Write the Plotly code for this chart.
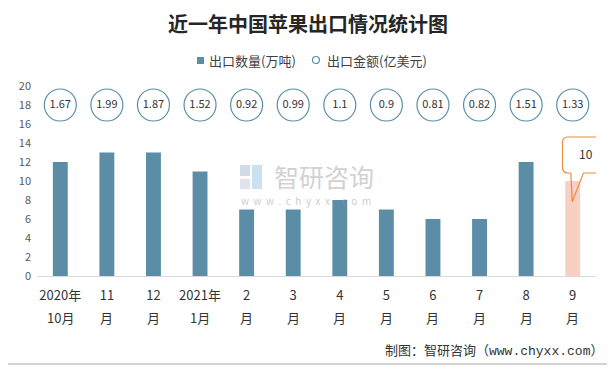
import plotly.graph_objects as go

line1 = ["2020年", "11", "12", "2021年", "2", "3", "4", "5", "6", "7", "8", "9"]
line2 = ["10月", "月", "月", "1月", "月", "月", "月", "月", "月", "月", "月", "月"]
volume = [12, 13, 13, 11, 7, 7, 8, 7, 6, 6, 12, 10]          # 出口数量(万吨)
amount = [1.67, 1.99, 1.87, 1.52, 0.92, 0.99, 1.1, 0.9, 0.81, 0.82, 1.51, 1.33]  # 出口金额(亿美元)
legend_names = ["出口数量(万吨)", "出口金额(亿美元)"]

BAR = "#5B8EA6"
PINK = "#F8CFC3"
ORANGE = "#E58F3C"
FONT = "Noto Sans CJK SC"
CIRCLE_Y = 18

# page is drawn 8px in from the top-left corner, so work in page pixels
OFF = 8
PL, PR, PT, PB = 37, 596, 86, 276   # plot area in page pixels
def xp(px):
    return (px - PL) / (PR - PL)
def yp(py):
    return (PB - py) / (PB - PT)

xs = list(range(len(line1)))
bar_colors = [BAR] * (len(volume) - 1) + [PINK]

fig = go.Figure()
fig.add_trace(go.Bar(x=xs, y=volume, marker=dict(color=bar_colors, line=dict(width=0)),
                     width=0.32, showlegend=False, hoverinfo="y"))
fig.add_trace(go.Scatter(x=xs, y=[CIRCLE_Y] * len(amount), mode="markers+text",
                         text=[str(v) for v in amount], textposition="middle center",
                         textfont=dict(size=11, color="#333333", family=FONT),
                         marker=dict(size=32, color="white", line=dict(color=BAR, width=1.2)),
                         showlegend=False, cliponaxis=False))

# second line of the x labels
for x, t in zip(xs, line2):
    fig.add_annotation(x=x, y=yp(317), xref="x", yref="paper", text=t, showarrow=False,
                       yanchor="middle", font=dict(size=13, color="#333333", family=FONT))

# manual legend
fig.add_shape(type="rect", xref="paper", yref="paper", x0=xp(197), x1=xp(204), y0=yp(64), y1=yp(57),
              fillcolor=BAR, line=dict(width=0))
fig.add_annotation(xref="paper", yref="paper", x=xp(207), y=yp(60), xanchor="left", yanchor="middle",
                   text=legend_names[0], showarrow=False, font=dict(size=13, color="#404040", family=FONT))
fig.add_shape(type="circle", xref="paper", yref="paper", x0=xp(312.5), x1=xp(319.5), y0=yp(63.5), y1=yp(56.5),
              fillcolor="white", line=dict(color=BAR, width=1.2))
fig.add_annotation(xref="paper", yref="paper", x=xp(325), y=yp(60), xanchor="left", yanchor="middle",
                   text=legend_names[1], showarrow=False, font=dict(size=13, color="#404040", family=FONT))

# callout for last bar
i = len(volume) - 1
v = volume[i]
x0, x1 = i - 0.22, i + 0.80
yb, yt = v + 0.84, v + 4.63
rx, ry = 0.12, 0.6
tip_x, tip_y = i - 0.01, v - 2.2
path = (f"M {x0+rx},{yt} L {x1-rx},{yt} Q {x1},{yt} {x1},{yt-ry} "
        f"L {x1},{yb+ry} Q {x1},{yb} {x1-rx},{yb} L {i+0.23},{yb} L {tip_x},{tip_y} "
        f"L {i-0.04},{yb} L {x0+rx},{yb} Q {x0},{yb} {x0},{yb+ry} L {x0},{yt-ry} Q {x0},{yt} {x0+rx},{yt} Z")
fig.add_shape(type="path", path=path, xref="x", yref="y", fillcolor="rgba(0,0,0,0)",
              line=dict(color=ORANGE, width=1.2), layer="above")
fig.add_annotation(x=(x0 + x1) / 2, y=(yb + yt) / 2 + 0.2, text=str(v), showarrow=False,
                   font=dict(size=12, color="#333333", family=FONT), xref="x", yref="y")

# outer border (right and bottom edges lie inside the figure)
fig.add_shape(type="rect", xref="paper", yref="paper",
              x0=xp(5), x1=xp(610), y0=yp(364), y1=yp(2),
              line=dict(color="#A6A6A6", width=1), layer="below")

# watermark
fig.add_shape(type="rect", xref="paper", yref="paper", x0=xp(240), x1=xp(250), y0=yp(176), y1=yp(165),
              fillcolor="rgba(175,190,215,0.55)", line=dict(width=0), layer="below")
fig.add_shape(type="rect", xref="paper", yref="paper", x0=xp(252), x1=xp(262), y0=yp(189), y1=yp(165),
              fillcolor="rgba(150,195,225,0.5)", line=dict(width=0), layer="below")
fig.add_shape(type="rect", xref="paper", yref="paper", x0=xp(240), x1=xp(250), y0=yp(189), y1=yp(179),
              fillcolor="rgba(190,200,220,0.5)", line=dict(width=0), layer="below")
fig.add_annotation(xref="paper", yref="paper", x=xp(324), y=yp(175.5),
                   text="智研咨询", showarrow=False,
                   font=dict(size=25, color="rgba(150,150,150,0.45)", family=FONT))
fig.add_annotation(xref="paper", yref="paper", x=xp(306), y=yp(200.5),
                   text="w  w  w  .  c  h  y  x  x  .  c  o  m", showarrow=False,
                   font=dict(size=10, color="rgba(150,150,150,0.5)", family=FONT))

# footer
fig.add_annotation(xref="paper", yref="paper", x=xp(605), y=yp(349),
                   xanchor="right", yanchor="middle",
                   text="制图：智研咨询（<span style='font-family:Liberation Mono'>www.chyxx.com</span>）",
                   showarrow=False, font=dict(size=13, color="#333333", family=FONT))

fig.update_layout(
    width=615 - OFF, height=369 - OFF,
    margin=dict(l=PL - OFF, r=615 - PR, t=PT - OFF, b=369 - PB),
    paper_bgcolor="white", plot_bgcolor="white",
    showlegend=False,
    title=dict(text="<b>近一年中国苹果出口情况统计图</b>", x=(308 - OFF) / (615 - OFF), xanchor="center",
               y=1 - (25 - OFF) / (369 - OFF), yanchor="middle",
               font=dict(size=20, color="#262626", family=FONT)),
    bargap=0.68,
    xaxis=dict(tickmode="array", tickvals=xs, ticktext=line1, range=[-0.5, len(xs) - 0.5],
               showline=True, linecolor="#D9D9D9", linewidth=1, ticks="", showgrid=False,
               zeroline=False, ticklabelstandoff=7,
               tickfont=dict(size=13, color="#333333", family=FONT)),
    yaxis=dict(range=[0, 20], dtick=2, tick0=0, showgrid=False, zeroline=False, showline=False,
               ticklabelstandoff=5,
               tickfont=dict(size=11, color="#595959", family=FONT)),
    font=dict(family=FONT),
)

fig.write_html("out.html")
